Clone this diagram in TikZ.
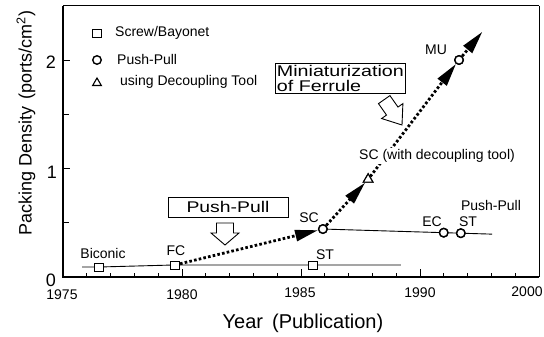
\documentclass[tikz,border=0pt]{standalone}
\usepackage{fontspec}
\setmainfont{Liberation Sans}
\usetikzlibrary{arrows.meta,calc,shapes.geometric}
\begin{document}
\begin{tikzpicture}[x=1pt,y=1pt,
  lbl/.style={font=\fontsize{14}{16}\selectfont, inner sep=0pt},
  ticklbl/.style={font=\fontsize{14}{16}\selectfont, inner sep=0pt},
  ylbl/.style={font=\fontsize{18}{20}\selectfont, inner sep=0pt, anchor=east},
  sqmark/.style={draw, fill=white, line width=0.9pt, minimum width=9pt, minimum height=8pt, inner sep=0pt},
  cmark/.style={circle, draw, fill=white, line width=1.4pt, minimum size=8.5pt, inner sep=0pt},
  tmark/.style={regular polygon, regular polygon sides=3, draw, fill=white, line width=1.1pt, minimum size=11pt, inner sep=0pt},
  dotline/.style={line width=2.8pt, dash pattern=on 2.6pt off 2.2pt},
  tipA/.style={-{Triangle[length=23pt,width=11pt]}},
  boxtxt/.style={font=\fontsize{15.5}{16}\selectfont},
  blockarrow/.style={line width=0.9pt, fill=white, line join=miter}
]
\useasboundingbox (0,0) rectangle (544,337);

% ---------- data frame ----------
\begin{scope}[shift={(63,60)}, x=23.8pt, y=108.5pt]
  \draw[line width=1.1pt] (0,2.5) -- (20,2.5);
  \draw[line width=1.0pt] (20,2.5) -- (20,0);
  \draw[line width=1.5pt] (0,2.5) -- (0,0) -- (20,0);
  \foreach \i in {1,...,19} \draw[line width=0.8pt] (\i,0) -- ++(0,4pt);
  \foreach \i in {0,5,10,15,20} \draw[line width=1pt] (\i,0) -- ++(0,8pt);
  \foreach \j in {1,2} \draw[line width=0.9pt] (0,\j) -- ++(7pt,0);
  \foreach \j in {0.5,1.5} \draw[line width=0.9pt] (0,\j) -- ++(6pt,0);

  \coordinate (L0) at (0.80,0.092);
  \coordinate (L1) at (14.20,0.111);
  \coordinate (L2) at (18.03,0.395);

  \node[sqmark] (Bi) at (1.51,0.092) {};
  \node[sqmark] (FC) at (4.71,0.111) {};
  \node[sqmark] (STs) at (10.50,0.111) {};
  \node[cmark] (SC) at (10.92,0.442) {};
  \node[cmark] (EC) at ($(SC)!0.714!(L2)$) {};
  \node[cmark] (STc) at ($(SC)!0.815!(L2)$) {};
  \node[tmark] (Tri) at (12.82,0.90) {};
  \node[cmark] (MU) at (16.64,2.0) {};
  \coordinate (Aend) at (17.62,2.26);
\end{scope}

% solid lines
\draw[line width=0.9pt] (L0) -- (Bi) (Bi) -- (FC) (FC) -- (STs) (STs) -- (L1);
\draw[line width=0.9pt] (SC) -- (EC) (EC) -- (STc) (STc) -- (L2);

% dotted arrows
\draw[dotline, tipA] (FC) -- (SC);
\draw[dotline, tipA] (SC) -- (Tri);
\draw[dotline, tipA] (Tri) -- (MU);
\draw[dotline, tipA] (MU) -- (Aend);

% markers on top
\node[sqmark] at (Bi) {};
\node[sqmark] at (FC) {};
\node[sqmark] at (STs) {};
\node[cmark] at (SC) {};
\node[cmark] at (EC) {};
\node[cmark] at (STc) {};
\node[tmark] at (Tri) {};
\node[cmark] at (MU) {};

% ---------- tick labels ----------
\node[ticklbl] (t1975) at (62,42) {1975};
\node[ticklbl] (t1980) at (182,42) {1980};
\node[ticklbl] (t1985) at (300,44) {1985};
\node[ticklbl] (t1990) at (420,44) {1990};
\node[ticklbl] (t2000) at (527,45) {2000};
\node[ylbl] (y0) at (56,57) {0};
\node[ylbl] (y1) at (57,165) {1};
\node[ylbl] (y2) at (56,275) {2};

% ---------- axis titles ----------
\node[font=\fontsize{20}{22}\selectfont, inner sep=0pt] (xt) at (303,14) {Year\hspace{0.45em}(Publication)};
\node[font=\fontsize{18}{20}\selectfont, inner sep=0pt, rotate=90] (yt) at (26,214) {Packing Density\hspace{0.4em}(ports/cm\textsuperscript{2})};

% ---------- legend ----------
\node[sqmark] (lg1) at (97,304) {};
\node[lbl, anchor=west] (lg1t) at (115,304) {Screw/Bayonet};
\node[cmark] (lg2) at (97,277) {};
\node[lbl, anchor=west] (lg2t) at (117,277) {Push-Pull};
\node[tmark, minimum size=10pt] (lg3) at (97,254) {};
\node[lbl, anchor=west] (lg3t) at (120,255) {using Decoupling Tool};

% ---------- point labels ----------
\node[lbl] (lBi) at (103,84) {Biconic};
\node[lbl] (lFC) at (176,86) {FC};
\node[lbl] (lSTs) at (325,82) {ST};
\node[lbl] (lSC) at (309,119) {SC};
\node[lbl] (lEC) at (432,115) {EC};
\node[lbl] (lSTc) at (468,115) {ST};
\node[lbl] (lPP) at (491,132) {Push-Pull};
\node[lbl, fill=white, inner sep=1pt] (lSCd) at (437,181) {SC (with decoupling tool)};
\node[lbl] (lMU) at (436,287) {MU};

% ---------- boxes ----------
\node[draw, line width=0.9pt, minimum width=120pt, minimum height=20pt, inner sep=0pt, boxtxt] (ppbox) at (228,130) {\scalebox{1.25}[1]{Push-Pull}};
\node[draw, line width=0.9pt, anchor=north west, inner xsep=1.5pt, inner ysep=2pt, align=left, boxtxt] (mbox) at (275,274)
  {\scalebox{1.27}[1]{Miniaturization}\\[-1pt]\scalebox{1.27}[1]{of Ferrule}};

% ---------- block arrows ----------
\draw[blockarrow, shift={(225,92)}] (-8.5,22) -- (8.5,22) -- (8.5,12) -- (14,12) -- (0,0) -- (-14,12) -- (-8.5,12) -- cycle;
\draw[blockarrow, shift={(402,212)}, rotate=35] (-7,31) -- (7,31) -- (7,17) -- (13,17) -- (0,0) -- (-13,17) -- (-7,17) -- cycle;
\end{tikzpicture}
\end{document}
